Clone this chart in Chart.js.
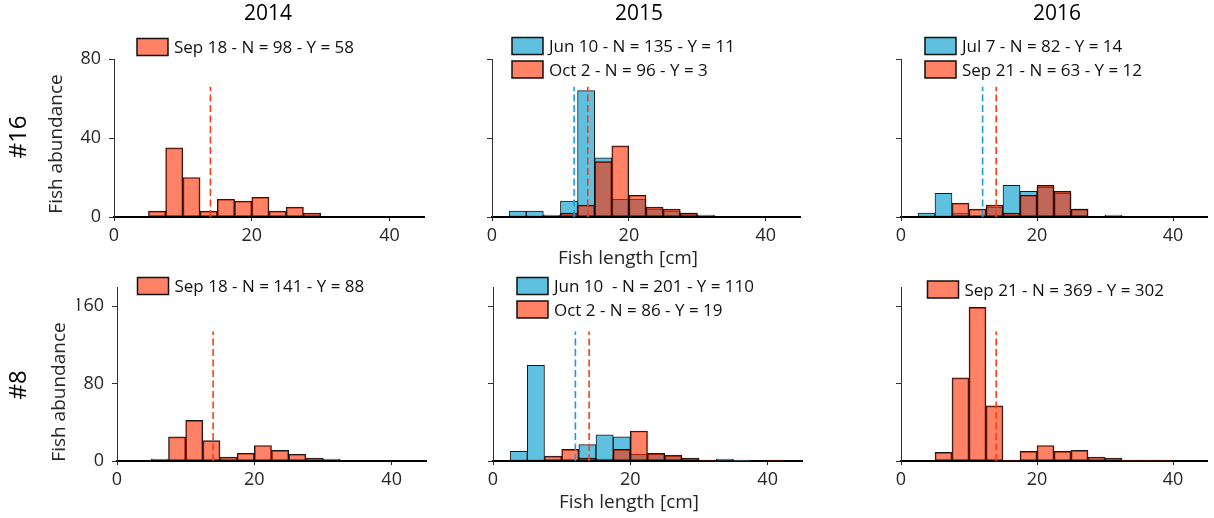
<!DOCTYPE html>
<html>
<head>
<meta charset="utf-8">
<script src="https://cdn.jsdelivr.net/npm/chart.js@4.4.1/dist/chart.umd.min.js"></script>
<style>
html,body{margin:0;padding:0;background:#fff;}
#wrap{position:relative;width:1214px;height:518px;overflow:hidden;background:#fff;}
#wrap canvas{position:absolute;left:0;top:0;}
</style>
</head>
<body>
<div id="wrap"></div>
<script>
// ---------------- DATA ----------------
const binStarts = [0,2.5,5,7.5,10,12.5,15,17.5,20,22.5,25,27.5,30,32.5,35,37.5,40,42.5];
const binWidth = 2.5;
const xTicks = [0,20,40];
const xMax = 45;
const yTicksSite16 = [0,40,80];
const yTicksSite8 = [0,80,160];
const yMaxSite16 = 80;
const yMaxSite8 = 180;
const years = ['2014','2015','2016'];
const sites = ['#16','#8'];
const xTitle = 'Fish length [cm]';
const yTitle = 'Fish abundance';

// Site #16
const site16_2014_sep18 = [0,0,3,35,20,3,9,8,10,3,5,2,0,0,0,0,0,0];
const site16_2015_jun10 = [0,3,3,0,8,64,30,9,9,4,3,2,0,0,0,0,0,0];
const site16_2015_oct2  = [0,0,0,1,2,6,28,36,11,5,4,2,1,0,0,0,0,0];
const site16_2016_jul7  = [0,2,12,2,0,5,16,13,15,12,4,0,1,0,0,0,0,0];
const site16_2016_sep21 = [0,0,0,7,4,6,2,11,16,13,4,0,0,0,0,0,0,0];
// Site #8
const site8_2014_sep18  = [0,0,2,25,42,21,4,8,16,11,7,3,2,0,0,0,0,0];
const site8_2015_jun10  = [0,10,99,0,0,17,27,25,7,7,5,2,0,1,1,0,0,0];
const site8_2015_oct2   = [0,0,0,5,12,3,2,12,31,8,6,3,1,2,0,0,1,0];
const site8_2016_sep21  = [0,0,9,86,159,57,1,10,16,10,11,4,3,1,1,1,0,0];

// legend labels
const lab16_2014_sep18 = 'Sep 18 - N = 98 - Y = 58';
const lab16_2015_jun10 = 'Jun 10 - N = 135 - Y = 11';
const lab16_2015_oct2  = 'Oct 2 - N = 96 - Y = 3';
const lab16_2016_jul7  = 'Jul 7 - N = 82 - Y = 14';
const lab16_2016_sep21 = 'Sep 21 - N = 63 - Y = 12';
const lab8_2014_sep18  = 'Sep 18 - N = 141 - Y = 88';
const lab8_2015_jun10  = 'Jun 10  - N = 201 - Y = 110';
const lab8_2015_oct2   = 'Oct 2 - N = 86 - Y = 19';
const lab8_2016_sep21  = 'Sep 21 - N = 369 - Y = 302';

// size thresholds (dashed lines) and their drawn heights
const thresholdEarly = 12;
const thresholdLate = 14;
const markerTopSite16 = 66;
const markerTopSite8 = 134;

// ---------------- STYLE ----------------
const FONT = "'Open Sans', 'Noto Sans', sans-serif";
const BLUE = 'rgb(95,192,224)';
const RED = 'rgba(255,45,0,0.6)';
const RED_PATCH = 'rgb(255,129,102)';
const BLUE_DASH = 'rgb(30,155,215)';
const RED_DASH = 'rgb(245,65,25)';
const TXT = '#262626';
const W = 1214, H = 518;
const YW = 40, XH = 40;

// panel frames (layout only)
const frames = [
  {L:114,R:424,T:59,B:217}, {L:492,R:800,T:59,B:217}, {L:901,R:1207,T:59,B:217},
  {L:117,R:426,T:287,B:461}, {L:493,R:802,T:287,B:461}, {L:901,R:1207,T:287,B:461}
];
const legendPos = [
  {x:137,y:38.5}, {x:512,y:37.5}, {x:925,y:37.5},
  {x:137.5,y:277.5}, {x:517,y:277.5}, {x:927.5,y:281}
];

const panels = [
  {row:0,col:0, blue:null, red:site16_2014_sep18, blueLab:null, redLab:lab16_2014_sep18},
  {row:0,col:1, blue:site16_2015_jun10, red:site16_2015_oct2, blueLab:lab16_2015_jun10, redLab:lab16_2015_oct2},
  {row:0,col:2, blue:site16_2016_jul7, red:site16_2016_sep21, blueLab:lab16_2016_jul7, redLab:lab16_2016_sep21},
  {row:1,col:0, blue:null, red:site8_2014_sep18, blueLab:null, redLab:lab8_2014_sep18},
  {row:1,col:1, blue:site8_2015_jun10, red:site8_2015_oct2, blueLab:lab8_2015_jun10, redLab:lab8_2015_oct2},
  {row:1,col:2, blue:null, red:site8_2016_sep21, blueLab:null, redLab:lab8_2016_sep21}
];

const toPoints = vals => binStarts.map((b,i)=>({x:b+binWidth/2, y:vals[i]}));

const textPlugin = {
  id:'panelText',
  afterDraw(chart, args, o){
    const ctx = chart.ctx, ca = chart.chartArea;
    ctx.save();
    // legend
    let y = o.legend.y;
    o.legend.items.forEach(it=>{
      ctx.fillStyle = it.color;
      ctx.fillRect(o.legend.x, y, 31, 17);
      ctx.lineWidth = 1.5; ctx.strokeStyle = '#111';
      ctx.strokeRect(o.legend.x, y, 31, 17);
      ctx.fillStyle = '#111';
      ctx.font = "17px " + FONT;
      ctx.textAlign = 'left'; ctx.textBaseline = 'alphabetic';
      ctx.fillText(it.text, o.legend.x + 37, y + 14.5);
      y += 23.5;
    });
    ctx.fillStyle = TXT;
    // y title
    if (o.yTitle){
      ctx.save();
      ctx.font = "19px " + FONT;
      ctx.translate(ca.left - 52, (ca.top + ca.bottom)/2 + (o.row===0?6:18));
      ctx.rotate(-Math.PI/2);
      ctx.textAlign='center'; ctx.textBaseline='alphabetic';
      ctx.fillText(o.yTitle, 0, 0);
      ctx.restore();
    }
    if (o.xTitle){
      ctx.font = "19px " + FONT;
      ctx.textAlign='center'; ctx.textBaseline='alphabetic';
      ctx.fillText(o.xTitle, ca.left + 136, ca.bottom + 46.5);
    }
    if (o.colTitle){
      ctx.fillStyle = '#000';
      ctx.font = "21px " + FONT;
      ctx.textAlign='center'; ctx.textBaseline='alphabetic';
      ctx.fillText(o.colTitle, o.colTitleX, 20);
    }
    if (o.rowTitle){
      ctx.save();
      ctx.fillStyle = '#000';
      ctx.font = "24px " + FONT;
      ctx.translate(26, o.rowTitleY);
      ctx.rotate(-Math.PI/2);
      ctx.textAlign='center'; ctx.textBaseline='alphabetic';
      ctx.fillText(o.rowTitle, 0, 0);
      ctx.restore();
    }
    ctx.restore();
  }
};

const colTitleX = [268, 639, 1057];
const rowTitleY = [137, 385];

panels.forEach((p, idx)=>{
  const f = frames[idx];
  const cv = document.createElement('canvas');
  cv.width = W; cv.height = H;
  cv.style.width = W+'px'; cv.style.height = H+'px';
  document.getElementById('wrap').appendChild(cv);
  const yMax = p.row===0 ? yMaxSite16 : yMaxSite8;
  const yTicks = p.row===0 ? yTicksSite16 : yTicksSite8;
  const markTop = p.row===0 ? markerTopSite16 : markerTopSite8;
  const ds = [];
  const legendItems = [];
  if (p.blue){
    ds.push({type:'bar', label:p.blueLab, data:toPoints(p.blue), backgroundColor:BLUE,
      borderColor:'rgba(0,0,0,0.9)', borderWidth:1, borderSkipped:false, grouped:false,
      barPercentage:1, categoryPercentage:1, order:3});
    ds.push({type:'line', data:[{x:thresholdEarly,y:0},{x:thresholdEarly,y:markTop}],
      borderColor:BLUE_DASH, borderWidth:1.6, borderDash:[7,3.5], pointRadius:0, order:0});
    legendItems.push({color:BLUE, text:p.blueLab});
  }
  ds.push({type:'bar', label:p.redLab, data:toPoints(p.red), backgroundColor:RED,
    borderColor:'rgba(0,0,0,0.9)', borderWidth:1, borderSkipped:false, grouped:false,
    barPercentage:1, categoryPercentage:1, order:2});
  ds.push({type:'line', data:[{x:thresholdLate,y:0},{x:thresholdLate,y:markTop}],
    borderColor:RED_DASH, borderWidth:1.6, borderDash:[7,3.5], pointRadius:0, order:0});
  legendItems.push({color:RED_PATCH, text:p.redLab});

  new Chart(cv, {
    type:'bar',
    data:{datasets:ds},
    options:{
      responsive:false, animation:false, devicePixelRatio:1,
      layout:{padding:{left:f.L-YW, right:W-f.R, top:f.T, bottom:H-f.B-XH}},
      plugins:{
        legend:{display:false}, tooltip:{enabled:false},
        panelText:{
          legend:{x:legendPos[idx].x, y:legendPos[idx].y, items:legendItems},
          yTitle: p.col===0 ? yTitle : null,
          xTitle: p.col===1 ? xTitle : null,
          row: p.row,
          colTitle: p.row===0 ? years[p.col] : null, colTitleX: colTitleX[p.col],
          rowTitle: p.col===0 ? sites[p.row] : null, rowTitleY: rowTitleY[p.row]
        }
      },
      scales:{
        x:{type:'linear', min:0, max:xMax, offset:false,
          afterBuildTicks:s=>{s.ticks = xTicks.map(v=>({value:v}));},
          afterFit:s=>{s.height = XH;},
          grid:{display:true, drawOnChartArea:false, drawTicks:true, tickLength:4, color:'#222', offset:false},
          border:{display:true, color:'#000', width:2},
          ticks:{font:{family:FONT,size:18}, color:TXT, padding:4, maxRotation:0, autoSkip:false}
        },
        y:{type:'linear', min:0, max:yMax,
          afterBuildTicks:s=>{s.ticks = yTicks.map(v=>({value:v}));},
          afterFit:s=>{s.width = YW;},
          grid:{display:true, drawOnChartArea:false, drawTicks:true, tickLength:5, color:'#333'},
          border:{display:true, color:'#333', width:1},
          ticks:{font:{family:FONT,size:18}, color:TXT, padding:8,
            callback: v => p.col===0 ? String(v) : ''}
        }
      }
    },
    plugins:[textPlugin]
  });
});
</script>
</body>
</html>
